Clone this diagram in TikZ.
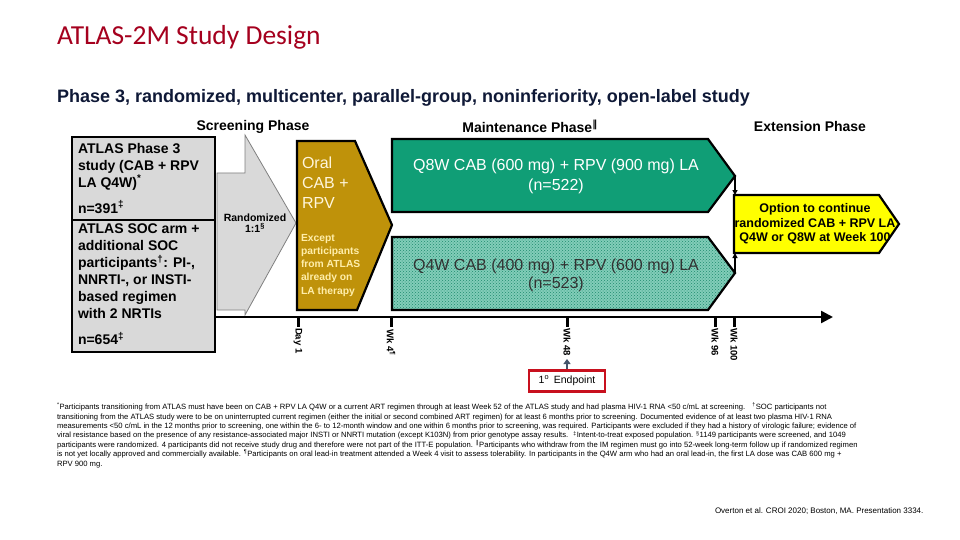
\documentclass[tikz,border=0pt]{standalone}
\usepackage{fontspec}
\setmainfont{Liberation Sans}
\newfontfamily\titlefont{Carlito}
\newfontfamily\symfont{DejaVu Sans}
\usetikzlibrary{arrows.meta,patterns}
\definecolor{titlered}{RGB}{165,0,30}
\definecolor{navy}{RGB}{15,25,55}
\definecolor{boxgray}{RGB}{217,217,217}
\definecolor{arrgray}{RGB}{128,128,128}
\definecolor{gold}{RGB}{191,146,10}
\definecolor{cream}{RGB}{255,246,220}
\definecolor{creamy}{RGB}{255,238,170}
\definecolor{q8green}{RGB}{16,158,118}
\definecolor{hatchbase}{RGB}{130,205,185}
\definecolor{hatchdark}{RGB}{30,140,110}
\definecolor{optyellow}{RGB}{255,255,0}
\definecolor{epred}{RGB}{200,16,30}
\definecolor{slate}{RGB}{68,84,106}
\definecolor{hatchtext}{RGB}{50,50,50}
\newcommand{\fsz}[2]{\fontsize{#1}{#2}\selectfont}
\newcommand{\dbar}{{\symfont ‖}}
\begin{document}
\begin{tikzpicture}[x=1pt,y=-1pt,
  txt/.style={inner sep=0pt, outer sep=0pt},
  shapeline/.style={draw=black, line width=2.2pt, line join=miter},
  ticklabel/.style={txt, rotate=-90, anchor=west, font=\bfseries\fsz{9.6}{12}},
  phaselabel/.style={txt, font=\bfseries\fsz{14}{16}},
  tick/.style={line width=3pt}
]
\useasboundingbox (0,0) rectangle (960,540);
\fill[white] (0,0) rectangle (960,540);

% title
\node[txt, anchor=west, text=titlered, font=\titlefont\fsz{27.5}{30}] (title) at (57,37) {ATLAS-2M Study Design};
\node[txt, anchor=west, text=navy, font=\bfseries\fsz{18}{20}] (subtitle) at (57,98) {Phase 3, randomized, multicenter, parallel-group, noninferiority, open-label study};

% screening arrow
\draw[fill=boxgray, draw=arrgray, line width=0.8pt]
  (217,173) -- (245,173) -- (245,135) -- (296,223) -- (245,315) -- (245,310) -- (217,310) -- cycle;
\coordinate (scrtip) at (296,223);
\node[txt, align=center, font=\bfseries\fsz{10.5}{11.5}] (rand) at (255,223) {Randomized\\1:1\textsuperscript{§}};

% gray boxes
\draw[shapeline, fill=boxgray] (72,137) rectangle (215,220);
\draw[shapeline, fill=boxgray] (72,220) rectangle (215,352);
\node[txt, anchor=north west, align=left, font=\bfseries\fsz{14}{17}] (atlasbox) at (78,143)
  {ATLAS Phase 3\\study (CAB + RPV\\LA Q4W)\textsuperscript{*}\\[9pt]n=391\textsuperscript{‡}};
\node[txt, anchor=north west, align=left, font=\bfseries\fsz{14}{17}] (socbox) at (78,224)
  {ATLAS SOC arm +\\additional SOC\\participants\textsuperscript{†}: PI-,\\NNRTI-, or INSTI-\\based regimen\\with 2 NRTIs\\[9pt]n=654\textsuperscript{‡}};

% gold oral lead-in
\draw[shapeline, fill=gold] (297,141) -- (355,141) -- (392,225) -- (357,310) -- (297,310) -- cycle;
\coordinate (goldtip) at (392,225);
\node[txt, anchor=north west, align=left, text=cream, font=\fsz{16}{20}] (oral) at (302,157) {Oral\\CAB +\\RPV};
\node[txt, anchor=north west, align=left, text=creamy, font=\bfseries\fsz{10.3}{13.3}] (except) at (301,234)
  {Except\\participants\\from ATLAS\\already on\\LA therapy};

% Q8W arm
\draw[shapeline, fill=q8green] (392,139) -- (708,139) -- (735,176) -- (708,212) -- (392,212) -- cycle;
\coordinate (q8tip) at (735,176);
\node[txt, align=center, text=white, font=\fsz{16}{20}] (q8) at (556,176) {Q8W CAB (600 mg) + RPV (900 mg) LA\\(n=522)};

% Q4W arm (hatched)
\fill[hatchbase] (392,237) -- (708,237) -- (735,273) -- (708,310) -- (392,310) -- cycle;
\fill[pattern=crosshatch dots, pattern color=hatchdark] (392,237) -- (708,237) -- (735,273) -- (708,310) -- (392,310) -- cycle;
\draw[shapeline] (392,237) -- (708,237) -- (735,273) -- (708,310) -- (392,310) -- cycle;
\coordinate (q4tip) at (735,273);
\node[txt, align=center, text=hatchtext, font=\fsz{16}{18}] (q4) at (556,275) {Q4W CAB (400 mg) + RPV (600 mg) LA\\(n=523)};

% extension option
\draw[shapeline, fill=optyellow] (734,195) -- (879,195) -- (899,224) -- (879,253) -- (734,253) -- cycle;
\coordinate (opttop) at (735,195);
\coordinate (optbot) at (735,253);
\node[txt, align=center, font=\bfseries\fsz{12.5}{14.5}] (opt) at (815,224) {Option to continue\\randomized CAB + RPV LA\\Q4W or Q8W at Week 100};
\draw[line width=1.4pt, -{Triangle[length=5pt,width=5pt]}] (q8tip) -- (opttop);
\draw[line width=1.4pt, -{Triangle[length=5pt,width=5pt]}] (q4tip) -- (optbot);

% phase labels
\node[phaselabel] (screen) at (253,127) {Screening Phase};
\node[phaselabel] (maint) at (530,126) {Maintenance Phase\textsuperscript{\dbar}};
\node[phaselabel] (ext) at (810,126) {Extension Phase};

% timeline
\coordinate (tlstart) at (215,317);
\coordinate (tlend) at (833,317);
\draw[line width=2.5pt, -{Triangle[length=12pt,width=12pt]}] (tlstart) -- (tlend);
\foreach \n/\x in {d1/298,w4/391,w48/567,w96/715,w100/734}{
  \coordinate (t\n) at (\x,317);
  \draw[tick] (t\n) -- ++(0,10);
}
\node[ticklabel] (ld1) at (298,328) {Day 1};
\node[ticklabel] (lw4) at (391,329) {Wk 4\textsuperscript{¶}};
\node[ticklabel] (lw48) at (567,328) {Wk 48};
\node[ticklabel] (lw96) at (715,328) {Wk 96};
\node[ticklabel] (lw100) at (734,328) {Wk 100};

% endpoint
\node[draw=epred, line width=2.6pt, fill=white, minimum width=76pt, minimum height=21pt, inner sep=0pt, font=\fsz{10.5}{12}] (ep) at (567,381) {1\textsuperscript{o}\, Endpoint};
\coordinate (eptop) at (567,359);
\draw[slate, line width=2pt, -{Triangle[length=5pt,width=7pt]}] (ep.north) -- (eptop);

% footnotes
\node[txt, anchor=north west, align=left, font=\fsz{7.65}{9.4}] (foot) at (57,403)
{\textsuperscript{*}Participants transitioning from ATLAS must have been on CAB + RPV LA Q4W or a current ART regimen through at least Week 52 of the ATLAS study and had plasma HIV-1 RNA <50 c/mL at screening. \ \ \textsuperscript{†}SOC participants not\\
transitioning from the ATLAS study were to be on uninterrupted current regimen (either the initial or second combined ART regimen) for at least 6 months prior to screening. Documented evidence of at least two plasma HIV-1 RNA\\
measurements <50 c/mL in the 12 months prior to screening, one within the 6- to 12-month window and one within 6 months prior to screening, was required. Participants were excluded if they had a history of virologic failure; evidence of\\
viral resistance based on the presence of any resistance-associated major INSTI or NNRTI mutation (except K103N) from prior genotype assay results. \ \textsuperscript{‡}Intent-to-treat exposed population. \textsuperscript{§}1149 participants were screened, and 1049\\
participants were randomized. 4 participants did not receive study drug and therefore were not part of the ITT-E population. \textsuperscript{\dbar}Participants who withdraw from the IM regimen must go into 52-week long-term follow up if randomized regimen\\
is not yet locally approved and commercially available. \textsuperscript{¶}Participants on oral lead-in treatment attended a Week 4 visit to assess tolerability. In participants in the Q4W arm who had an oral lead-in, the first LA dose was CAB 600 mg +\\
RPV 900 mg.};

\node[txt, anchor=west, font=\fsz{8}{9}] (cite) at (715,511) {Overton et al. CROI 2020; Boston, MA. Presentation 3334.};
\end{tikzpicture}
\end{document}
